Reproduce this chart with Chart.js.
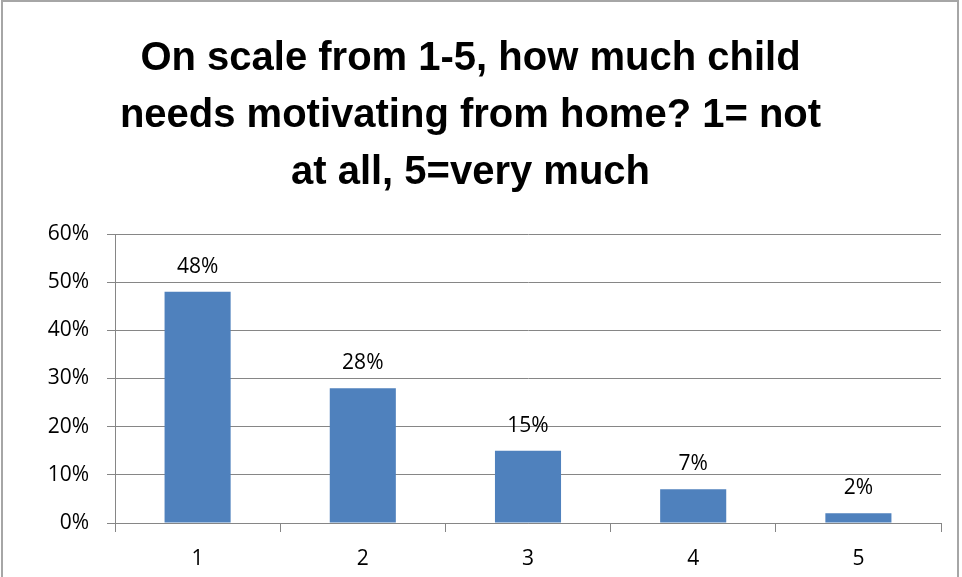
<!DOCTYPE html>
<html>
<head>
<meta charset="utf-8">
<script src="https://cdn.jsdelivr.net/npm/chart.js@4/dist/chart.umd.min.js"></script>
<style>
  html, body { margin: 0; padding: 0; background: #fff; overflow: hidden; }
  #frame {
    position: absolute; left: 1px; top: 0; width: 958px; height: 600px;
    border: 2px solid #a6a6a6; box-sizing: border-box;
  }
  #wrap { position: absolute; left: 0; top: 0; width: 962px; height: 577px; }
</style>
</head>
<body>
<div id="frame"></div>
<div id="wrap"><canvas id="chart" width="962" height="577"></canvas></div>
<script>
  // Survey answers, share of respondents per score
  const categories = ['1', '2', '3', '4', '5'];
  const shares = [48, 28, 15, 7, 2];
  const yTicks = [0, 10, 20, 30, 40, 50, 60];
  const titleLines = [
    'On scale from 1-5, how much child',
    'needs motivating from home? 1= not',
    'at all, 5=very much'
  ];

  const BAR_BLUE = '#4F81BD';
  const GRID = '#868686';
  const FONT = "'Open Sans', 'Liberation Sans', sans-serif";

  // small inline plugin: value labels above each bar
  const barLabels = {
    id: 'barLabels',
    afterDatasetsDraw(chart) {
      const ctx = chart.ctx;
      const meta = chart.getDatasetMeta(0);
      ctx.save();
      ctx.font = '21px ' + FONT;
      ctx.fillStyle = '#000';
      ctx.textAlign = 'center';
      ctx.textBaseline = 'alphabetic';
      meta.data.forEach(function (bar, i) {
        ctx.fillText(shares[i] + '%', bar.x, bar.y - 19);
      });
      ctx.restore();
    }
  };

  new Chart(document.getElementById('chart'), {
    type: 'bar',
    data: {
      labels: categories,
      datasets: [{
        data: shares,
        backgroundColor: BAR_BLUE,
        barPercentage: 0.4,
        categoryPercentage: 1.0
      }]
    },
    options: {
      responsive: false,
      animation: false,
      layout: { padding: { left: 0, right: 21, top: 0, bottom: 0 } },
      plugins: {
        legend: { display: false },
        tooltip: { enabled: false },
        title: {
          display: true,
          text: titleLines,
          color: '#000',
          font: { family: "'Liberation Sans', Arial, sans-serif", size: 40, weight: 'bold', lineHeight: 1.425 },
          padding: { top: 30, bottom: 33 }
        }
      },
      scales: {
        x: {
          grid: { display: true, drawOnChartArea: false, drawTicks: true, tickLength: 9, color: GRID, offset: true },
          border: { color: GRID, width: 1 },
          ticks: { color: '#000', font: { family: FONT, size: 21 }, padding: 14 },
          afterFit: function (scale) { scale.height = 54; }
        },
        y: {
          min: 0,
          max: 60,
          afterBuildTicks: function (scale) {
            scale.ticks = yTicks.map(function (v) { return { value: v }; });
          },
          grid: { color: GRID, lineWidth: 1, drawTicks: true, tickLength: 8 },
          border: { color: GRID, width: 1 },
          ticks: {
            color: '#000',
            font: { family: FONT, size: 21 },
            padding: 18,
            callback: function (v) { return v + '%'; }
          },
          afterFit: function (scale) { scale.width = 115; }
        }
      }
    },
    plugins: [barLabels]
  });
</script>
</body>
</html>
